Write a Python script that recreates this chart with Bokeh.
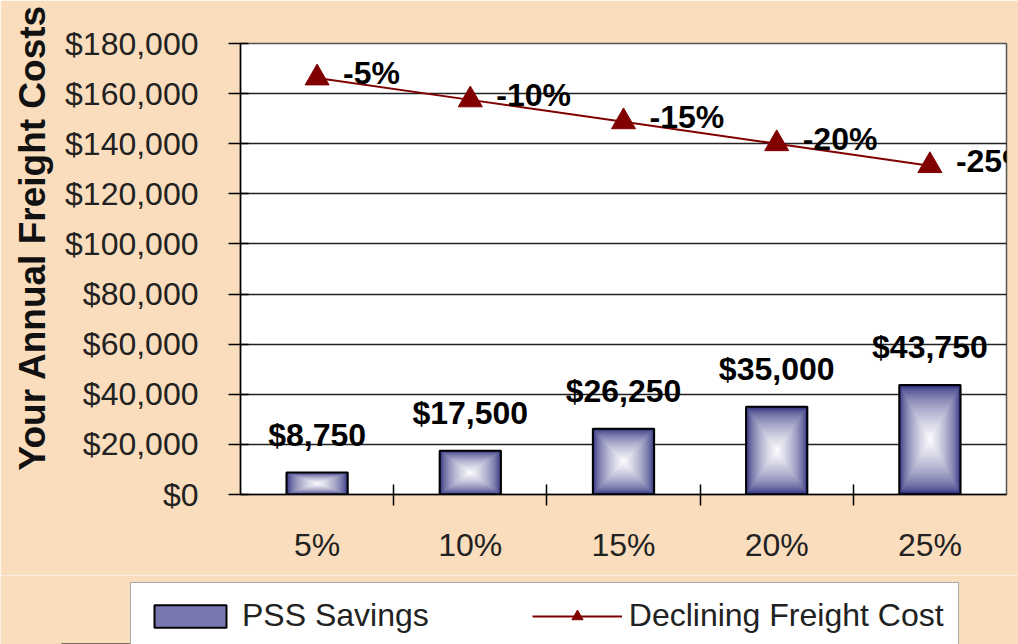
import numpy as np
from bokeh.plotting import figure
from bokeh.models import (FactorRange, Range1d, CategoricalAxis, CategoricalScale,
                          SingleIntervalTicker, NumeralTickFormatter, Legend, LegendItem, Title)
from bokeh.core.properties import value
from bokeh.embed import file_html
from bokeh.resources import INLINE

categories = ["5%", "10%", "15%", "20%", "25%"]
savings = [8750, 17500, 26250, 35000, 43750]
freight_cost = [166250, 157500, 148750, 140000, 131250]
freight_labels = ["-5%", "-10%", "-15%", "-20%", "-25%"]
savings_labels = ["$8,750", "$17,500", "$26,250", "$35,000", "$43,750"]

PEACH = "#FADDBD"
FONT = "Liberation Sans"
BAR_W = 0.4
BAR_FILL_MID = "#7878b0"
LINE_COLOR = "#800000"

p = figure(x_range=FactorRange(*categories), y_range=Range1d(0, 180000),
           width=1018, height=575, output_backend="svg", toolbar_location=None,
           x_axis_location=None, y_axis_location="left",
           min_border_left=232, min_border_top=43, min_border_right=12, min_border_bottom=81)
p.border_fill_color = PEACH
p.background_fill_color = "white"
p.outline_line_color = "#555555"
p.outline_line_width = 1.5

# y axis
ya = p.yaxis[0]
ya.ticker = SingleIntervalTicker(interval=20000, num_minor_ticks=0)
ya.formatter = NumeralTickFormatter(format="$0,0")
ya.major_tick_in = 8
ya.major_tick_out = 12
ya.major_tick_line_color = "black"
ya.major_tick_line_width = 1.5
ya.minor_tick_line_color = None
ya.axis_line_color = "black"
ya.axis_line_width = 1.5
ya.major_label_standoff = 30
ya.major_label_text_font = FONT
ya.major_label_text_font_size = "32px"
ya.major_label_text_color = "#222222"

p.ygrid.grid_line_color = "#222222"
p.ygrid.grid_line_width = 1.5
p.xgrid.grid_line_color = None

# x axis: tick marks at the category boundaries, labels at the centres
edge_names = ["b%d" % i for i in range(len(categories) + 1)]
p.extra_x_ranges = {"edges": FactorRange(factors=edge_names, range_padding=-0.5,
                                         range_padding_units="absolute")}
p.extra_x_scales = {"edges": CategoricalScale()}
edge_axis = CategoricalAxis(x_range_name="edges",
                            major_tick_in=10, major_tick_out=11,
                            major_tick_line_color="black", major_tick_line_width=1.5,
                            axis_line_color="black", axis_line_width=1.5,
                            major_label_text_font_size="0px", major_label_standoff=0)
p.add_layout(edge_axis, "below")
cat_axis = CategoricalAxis(major_tick_line_color=None, axis_line_color=None,
                           major_label_standoff=15,
                           major_label_text_font=FONT, major_label_text_font_size="32px",
                           major_label_text_color="#222222")
p.add_layout(cat_axis, "below")

# y title
p.add_layout(Title(text="Your Annual Freight Costs", align="right", offset=-39,
                   text_font=FONT, text_font_size="37px", text_font_style="bold",
                   text_color="#111111", standoff=19), "left")

# bars with rectangular "from centre" gradient
navy = np.array([36, 36, 118])
white = np.array([250, 250, 253])
N = 28
vals = np.array(savings, dtype=float)
for k in range(N):
    t = k / N
    f = (k / (N - 1)) ** 0.55
    c = (navy + (white - navy) * f).astype(int)
    p.vbar(x=categories, top=vals * (1 - t / 2), bottom=vals * t / 2, width=BAR_W * (1 - t),
           fill_color="#%02x%02x%02x" % tuple(c), line_color=None)
p.vbar(x=categories, top=savings, width=BAR_W, fill_alpha=0, line_color="black", line_width=2)

# line series
p.line(x=categories, y=freight_cost, line_color=LINE_COLOR, line_width=2)
p.scatter(x=categories, y=freight_cost, marker="triangle", size=24,
          fill_color=LINE_COLOR, line_color=LINE_COLOR)

# labels
p.text(x=categories, y=freight_cost, text=freight_labels, x_offset=26, y_offset=-5,
       text_baseline="middle", text_align="left", text_font=value(FONT),
       text_font_style="bold", text_font_size="32px", text_color="black")
p.text(x=categories, y=savings, text=savings_labels, y_offset=-38,
       text_baseline="alphabetic", text_align="center", text_font=value(FONT),
       text_font_style="bold", text_font_size="32px", text_color="black")

# legend strip below the chart (series re-drawn far outside its visible y-range so only the legend shows)
lg = figure(width=1018, height=69, output_backend="svg", toolbar_location=None,
            x_range=FactorRange(*categories), y_range=Range1d(1e7, 2e7),
            x_axis_location=None, y_axis_location=None,
            min_border_left=0, min_border_right=0, min_border_top=0, min_border_bottom=0)
lg.grid.visible = False
lg.outline_line_color = None
lg.background_fill_color = PEACH
lg.border_fill_color = PEACH
bar_proxy = lg.vbar(x=categories, top=savings, width=BAR_W, fill_color=BAR_FILL_MID,
                    line_color="black", line_width=2)
line_proxy = lg.line(x=categories, y=freight_cost, line_color=LINE_COLOR, line_width=2)
mark_proxy = lg.scatter(x=categories, y=freight_cost, marker="triangle", size=24,
                        fill_color=LINE_COLOR, line_color=LINE_COLOR)

legend = Legend(items=[LegendItem(label="PSS Savings", renderers=[bar_proxy]),
                       LegendItem(label="Declining Freight Cost", renderers=[line_proxy, mark_proxy])],
                orientation="horizontal", location=(130, -5), margin=0,
                padding=14, spacing=103, glyph_width=90, glyph_height=28, label_standoff=7,
                label_text_font=FONT, label_text_font_size="32px", label_text_color="#222222",
                border_line_color="#555555", border_line_width=1.5, background_fill_color="white",
                background_fill_alpha=1.0)
lg.add_layout(legend, "center")

html = file_html([p, lg], INLINE)
html = html.replace("<body>", '<body style="background-color:%s">' % PEACH, 1)
open("out.html", "w").write(html)
